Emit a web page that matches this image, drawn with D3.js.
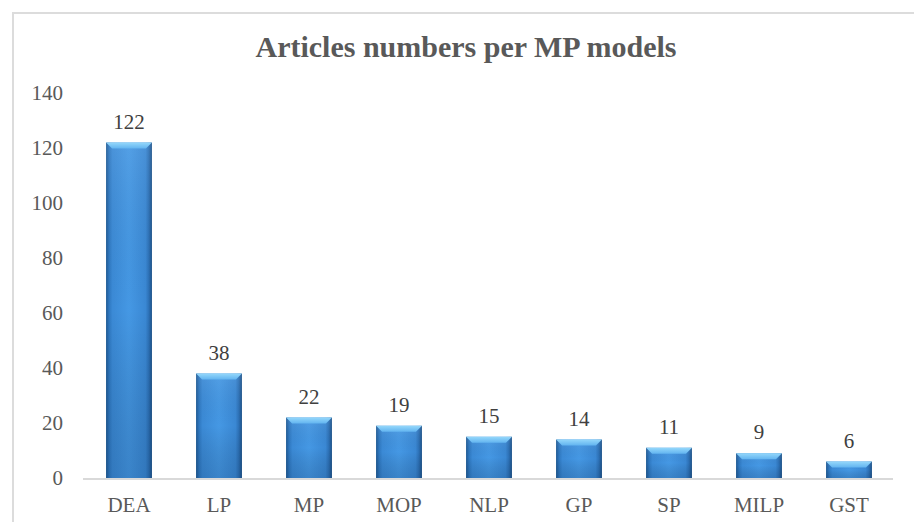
<!DOCTYPE html>
<html>
<head>
<meta charset="utf-8">
<script src="https://cdn.jsdelivr.net/npm/d3@7/dist/d3.min.js"></script>
<style>
  html, body { margin: 0; padding: 0; background: #ffffff; }
  svg { display: block; }
</style>
</head>
<body>
<script>
// Article counts per mathematical-programming model
const categories = ["DEA", "LP", "MP", "MOP", "NLP", "GP", "SP", "MILP", "GST"];
const articleCounts = [122, 38, 22, 19, 15, 14, 11, 9, 6];
const yTicks = [0, 20, 40, 60, 80, 100, 120, 140];
const chartTitle = "Articles numbers per MP models";

const W = 914, H = 522;
const FONT = "'Liberation Serif', 'Times New Roman', serif";
const TEXT = "#595959";

const svg = d3.select("body").append("svg")
  .attr("width", W).attr("height", H);

const defs = svg.append("defs");

// Horizontal shading: dark edges, lighter centre
const gH = defs.append("linearGradient").attr("id", "barH")
  .attr("x1", "0").attr("x2", "1").attr("y1", "0").attr("y2", "0");
[[0, "#1f5a94"], [0.07, "#2f79c2"], [0.14, "#3b8ad6"], [0.5, "#4598e4"],
 [0.86, "#3a88d4"], [0.93, "#2d72b8"], [1, "#1d5289"]]
  .forEach(([o, c]) => gH.append("stop").attr("offset", o).attr("stop-color", c));

// Vertical darkening toward the base
const gV = defs.append("linearGradient").attr("id", "barV")
  .attr("x1", "0").attr("x2", "0").attr("y1", "0").attr("y2", "1");
gV.append("stop").attr("offset", 0).attr("stop-color", "#ffffff").attr("stop-opacity", 0.08);
gV.append("stop").attr("offset", 0.5).attr("stop-color", "#000000").attr("stop-opacity", 0);
gV.append("stop").attr("offset", 1).attr("stop-color", "#0a2a50").attr("stop-opacity", 0.18);

// Bevelled top face
const gTop = defs.append("linearGradient").attr("id", "barTop")
  .attr("x1", "0").attr("x2", "0").attr("y1", "0").attr("y2", "1");
gTop.append("stop").attr("offset", 0).attr("stop-color", "#95d8fb");
gTop.append("stop").attr("offset", 1).attr("stop-color", "#62b4f0");

// Outer frame (open on the right)
svg.append("path")
  .attr("d", `M13,${H} L13,13 L${W},13`)
  .attr("fill", "none").attr("stroke", "#dcdcdc").attr("stroke-width", 2);

// Scales
const x = d3.scaleBand().domain(categories).range([84, 894])
  .paddingInner(0.49).paddingOuter(0.245);
const y = d3.scaleLinear().domain([0, 140]).range([478, 93]);

// Title
svg.append("text")
  .attr("x", 466).attr("y", 57)
  .attr("text-anchor", "middle")
  .attr("font-family", FONT).attr("font-weight", "bold")
  .attr("font-size", 30).attr("fill", TEXT)
  .text(chartTitle);

// Y axis: labels only
const yAxis = d3.axisLeft(y).tickValues(yTicks).tickSize(0).tickPadding(0);
const gy = svg.append("g").attr("transform", "translate(63,0)").call(yAxis);
gy.select(".domain").remove();
gy.selectAll("text")
  .attr("font-family", FONT).attr("font-size", 21).attr("fill", TEXT);

// Bars
const data = categories.map((c, i) => ({ cat: c, value: articleCounts[i] }));
const bw = x.bandwidth();
const bars = svg.append("g").selectAll("g").data(data).join("g");

bars.append("rect")
  .attr("x", d => x(d.cat)).attr("y", d => y(d.value))
  .attr("width", bw).attr("height", d => y(0) - y(d.value))
  .attr("fill", "url(#barH)");
bars.append("rect")
  .attr("x", d => x(d.cat)).attr("y", d => y(d.value))
  .attr("width", bw).attr("height", d => y(0) - y(d.value))
  .attr("fill", "url(#barV)");
const bevel = 6;
bars.append("path")
  .attr("d", d => {
    const x0 = x(d.cat), x1 = x0 + bw, t = y(d.value);
    return `M${x0},${t} L${x1},${t} L${x1 - bevel},${t + bevel} L${x0 + bevel},${t + bevel} Z`;
  })
  .attr("fill", "url(#barTop)");

// Value labels
svg.append("g").selectAll("text").data(data).join("text")
  .attr("x", d => x(d.cat) + bw / 2)
  .attr("y", d => y(d.value) - 14)
  .attr("text-anchor", "middle")
  .attr("font-family", FONT).attr("font-size", 21).attr("fill", "#404040")
  .text(d => d.value);

// Baseline
svg.append("line")
  .attr("x1", 83).attr("x2", 893)
  .attr("y1", y(0) + 1).attr("y2", y(0) + 1)
  .attr("stroke", "#d9d9d9").attr("stroke-width", 2);

// X axis labels
const xAxis = d3.axisBottom(x).tickSize(0).tickPadding(0);
const gx = svg.append("g").attr("transform", "translate(0,497)").call(xAxis);
gx.select(".domain").remove();
gx.selectAll("text")
  .attr("dy", 0).attr("y", 15)
  .attr("font-family", FONT).attr("font-size", 21).attr("fill", TEXT);
</script>
</body>
</html>
